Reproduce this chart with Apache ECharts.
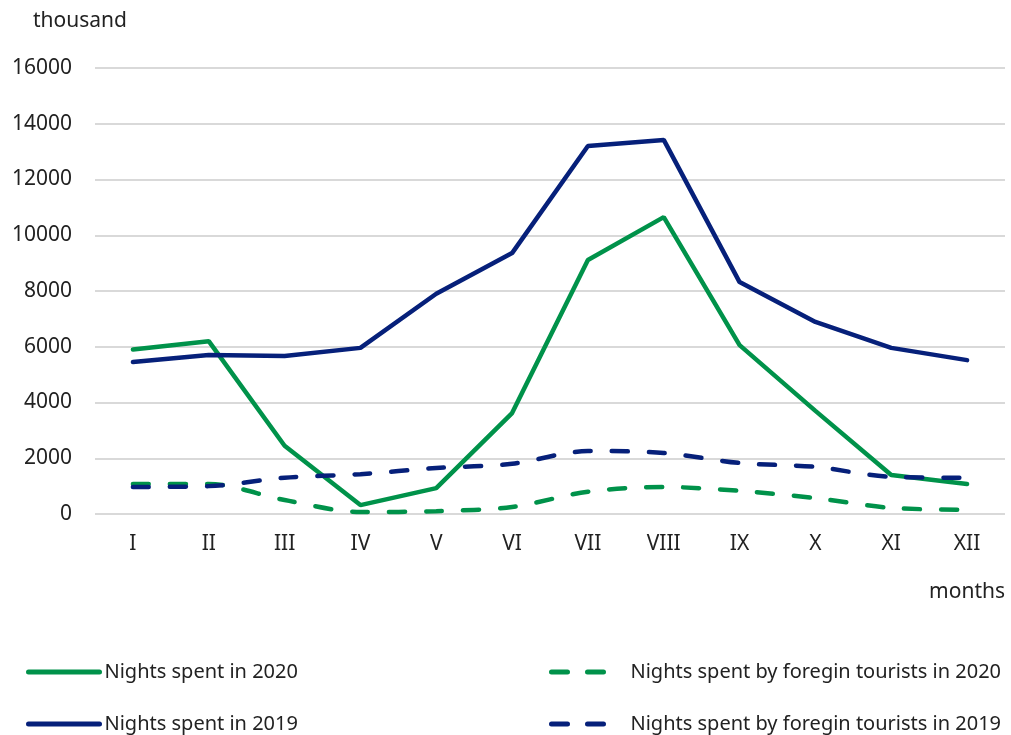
<!DOCTYPE html>
<html>
<head>
<meta charset="utf-8">
<script src="https://cdn.jsdelivr.net/npm/echarts@6/dist/echarts.min.js"></script>
<style>
    html, body { margin: 0; padding: 0; background: #fff; }
    #chart { width: 1011px; height: 735px; }
</style>
</head>
<body>
<div id="chart"></div>
<script>
var months = ['I', 'II', 'III', 'IV', 'V', 'VI', 'VII', 'VIII', 'IX', 'X', 'XI', 'XII'];
var nights2020 = [5900, 6200, 2450, 320, 930, 3620, 9110, 10650, 6060, 3700, 1400, 1080];
var nights2019 = [5450, 5700, 5670, 5960, 7900, 9360, 13200, 13420, 8320, 6890, 5960, 5520];
var foreign2020 = [1080, 1080, 500, 70, 100, 250, 800, 970, 830, 570, 220, 150];
var foreign2019 = [970, 1000, 1300, 1430, 1650, 1800, 2260, 2190, 1830, 1690, 1330, 1300];

var green = '#00924a';
var navy = '#06207a';
var font = '"Noto Sans", "Open Sans", sans-serif';

var chart = echarts.init(document.getElementById('chart'));

// one legend per item so each can be placed like the original
function legendAt(name, left, top, width, textPad, dashed) {
    return {
        data: [name],
        left: left,
        top: top,
        padding: 0,
        itemWidth: width,
        itemHeight: 14,
        itemStyle: { opacity: 0 },
        lineStyle: { width: 5, type: dashed ? [16, 20] : 'solid', cap: 'round' },
        textStyle: { fontFamily: font, fontSize: 20, color: '#222', padding: [0, 0, 0, textPad] }
    };
}

function lineSeries(name, data, color, dashed) {
    return {
        name: name,
        type: 'line',
        data: data,
        symbol: 'none',
        smooth: dashed ? 0.3 : false,
        lineStyle: {
            color: color,
            width: 4.5,
            type: dashed ? [16, 21] : 'solid',
            cap: 'round'
        },
        itemStyle: { color: color }
    };
}

var option = {
    animation: false,
    grid: { left: 95, right: 6, top: 68, bottom: 221 },
    legend: [
        legendAt('Nights spent in 2020', 26, 662, 71, 0, false),
        legendAt('Nights spent in 2019', 26, 714, 71, 0, false),
        legendAt('Nights spent by foregin tourists in 2020', 549, 662, 58, 16, true),
        legendAt('Nights spent by foregin tourists in 2019', 549, 714, 58, 16, true)
    ],
    xAxis: {
        type: 'category',
        data: months,
        boundaryGap: true,
        name: 'months',
        nameLocation: 'end',
        nameGap: 0,
        nameTextStyle: {
            fontFamily: font, fontSize: 21, color: '#222',
            align: 'right', verticalAlign: 'top', padding: [68, 0, 0, 0]
        },
        axisLine: { show: false },
        axisTick: { show: false },
        axisLabel: { fontFamily: font, fontSize: 21, color: '#222', margin: 20 }
    },
    yAxis: {
        type: 'value',
        min: 0,
        max: 16000,
        interval: 2000,
        name: 'thousand',
        nameGap: 36,
        nameTextStyle: {
            fontFamily: font, fontSize: 21, color: '#222',
            align: 'left', padding: [0, 0, 0, -62]
        },
        axisLine: { show: false },
        axisTick: { show: false },
        axisLabel: {
            fontFamily: font, fontSize: 21, color: '#222', margin: 23,
            formatter: function(v) { return String(v); }
        },
        splitLine: { lineStyle: { color: '#d9d9d9', width: 2 } }
    },
    series: [
        lineSeries('Nights spent in 2020', nights2020, green, false),
        lineSeries('Nights spent in 2019', nights2019, navy, false),
        lineSeries('Nights spent by foregin tourists in 2020', foreign2020, green, true),
        lineSeries('Nights spent by foregin tourists in 2019', foreign2019, navy, true)
    ]
};

chart.setOption(option);
</script>
</body>
</html>
